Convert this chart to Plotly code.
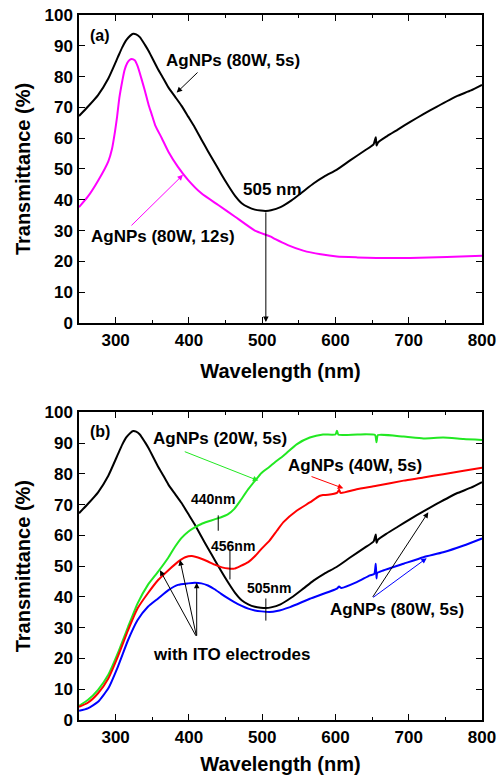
import plotly.graph_objects as go

# ---------------- data ----------------
wl_80w5 = [250, 262, 276, 290, 303, 309, 315, 320, 324, 328, 333, 340, 345, 358, 363, 372, 381, 390,
           399, 408, 417, 426, 436, 444, 454, 463, 472, 481, 490, 498, 505, 512, 525, 540, 556, 570,
           585, 602, 620, 640, 652, 655, 656, 658, 670, 685, 702, 720, 738, 765, 785, 800]
t_80w5 = [67.2, 70.2, 74.0, 79.4, 86.3, 89.5, 92.0, 93.3, 93.9, 93.7, 92.8, 90.3, 88.3, 82.3, 80.3,
          76.5, 73.5, 70.5, 67.0, 63.5, 59.6, 55.8, 51.7, 48.4, 44.5, 41.3, 38.9, 37.6, 36.8, 36.5,
          36.4, 36.6, 37.6, 39.8, 42.7, 45.3, 47.6, 49.8, 52.8, 56.0, 58.0, 60.3, 57.6, 58.6, 60.6,
          62.8, 65.3, 67.8, 70.2, 73.6, 75.5, 77.3]

wl_80w12 = [250, 262, 276, 290, 295, 299, 302, 305, 309, 312, 316, 319, 322, 326, 330, 335, 340, 345,
            349, 354, 363, 372, 385, 399, 417, 440, 463, 490, 511, 518, 535, 556, 580, 602, 630, 656,
            702, 752, 800]
t_80w12 = [37.6, 41.0, 46.2, 52.5, 56.5, 62.0, 67.0, 73.0, 78.5, 82.0, 84.5, 85.4, 85.7, 85.3, 83.4,
           79.5, 75.3, 70.8, 67.9, 64.2, 60.0, 55.6, 50.7, 46.4, 42.1, 38.3, 34.5, 30.0, 28.1, 27.2,
           25.3, 23.5, 22.3, 21.6, 21.3, 21.1, 21.1, 21.4, 21.8]

wl_20w5 = [250, 262, 276, 290, 303, 317, 330, 344, 358, 372, 381, 390, 399, 408, 417, 426, 435, 444,
           453, 462, 470, 481, 492, 499, 510, 517, 529, 547, 565, 583, 600, 602, 604, 630, 654, 656,
           658, 693, 720, 747, 775, 800]
t_20w5 = [4.6, 6.5, 9.8, 14.7, 21.7, 30.3, 37.9, 43.9, 48.2, 52.8, 56.3, 59.2, 61.2, 62.6, 63.7, 64.5,
          65.2, 65.9, 66.8, 68.6, 71.2, 75.0, 78.3, 80.3, 82.3, 83.7, 85.9, 89.6, 91.8, 92.8, 92.8,
          94.0, 92.7, 92.8, 92.6, 90.3, 92.6, 92.1, 91.5, 91.8, 91.3, 91.0]

wl_40w5 = [250, 262, 276, 290, 303, 317, 330, 344, 358, 372, 385, 395, 404, 417, 426, 436, 445, 454,
           462, 470, 481, 490, 499, 510, 520, 529, 547, 565, 578, 583, 590, 602, 605, 607, 629, 656,
           693, 720, 747, 775, 800]
t_40w5 = [4.3, 5.6, 8.7, 13.5, 20.6, 29.2, 36.3, 41.2, 45.5, 48.7, 51.4, 52.9, 53.3, 52.4, 51.5, 50.4,
          49.6, 49.2, 49.2, 50.0, 51.3, 53.2, 55.6, 58.3, 61.5, 64.3, 68.0, 70.7, 72.8, 73.1, 73.2,
          73.8, 74.8, 73.8, 75.0, 76.1, 77.8, 78.8, 79.9, 81.0, 82.0]

wl_ito80 = [250, 262, 276, 290, 303, 317, 330, 344, 358, 372, 385, 399, 408, 417, 426, 435, 444, 453,
            462, 472, 481, 490, 499, 510, 520, 538, 565, 602, 605, 608, 629, 647, 653, 655, 656, 657,
            665, 693, 720, 747, 775, 800]
t_ito80 = [3.0, 3.8, 5.9, 10.3, 17.3, 26.0, 32.5, 36.8, 39.5, 42.2, 43.9, 44.4, 44.6, 44.4, 43.7,
           42.5, 41.0, 39.6, 38.3, 37.1, 36.2, 35.6, 35.3, 35.1, 35.4, 36.7, 39.4, 42.7, 43.4, 42.9,
           44.8, 47.0, 47.5, 50.8, 46.0, 47.8, 48.6, 50.8, 52.9, 54.5, 56.7, 59.0]

x_ticks = [300, 400, 500, 600, 700, 800]
y_ticks = [0, 10, 20, 30, 40, 50, 60, 70, 80, 90, 100]

# ---------------- figure ----------------
FONT = "Arial, Liberation Sans, sans-serif"
BLACK = "#000000"
MAGENTA = "#FF00FF"
GREEN = "#22E822"
RED = "#FF0000"
BLUE = "#0000FF"

fig = go.Figure()

def curve(x, y, color, xa, ya):
    return go.Scatter(x=x, y=y, mode="lines",
                      line=dict(color=color, width=2, shape="spline", smoothing=0.5),
                      xaxis=xa, yaxis=ya, showlegend=False, hoverinfo="skip")

# panel (a)
fig.add_trace(curve(wl_80w5, t_80w5, BLACK, "x", "y"))
fig.add_trace(curve(wl_80w12, t_80w12, MAGENTA, "x", "y"))
# panel (b)
fig.add_trace(curve(wl_80w5, t_80w5, BLACK, "x2", "y2"))
fig.add_trace(curve(wl_20w5, t_20w5, GREEN, "x2", "y2"))
fig.add_trace(curve(wl_40w5, t_40w5, RED, "x2", "y2"))
fig.add_trace(curve(wl_ito80, t_ito80, BLUE, "x2", "y2"))

def xaxis_style(anchor):
    return dict(
        domain=[0.1577, 0.9621], anchor=anchor, range=[250, 800],
        tickvals=x_ticks, ticks="inside", ticklen=6, tickwidth=1.3, tickcolor=BLACK,
        minor=dict(dtick=50, tick0=250, ticks="inside", ticklen=3, tickwidth=1.3, tickcolor=BLACK),
        showline=True, linewidth=1.5, linecolor=BLACK, mirror="ticks",
        showgrid=False, zeroline=False, automargin=False,
        tickfont=dict(family=FONT, size=17, color=BLACK, weight="bold"),
        ticklabelstandoff=1,
        title=dict(text="Wavelength (nm)", standoff=15,
                   font=dict(family=FONT, size=20, color=BLACK, weight="bold")),
    )

def yaxis_style(anchor, domain):
    return dict(
        domain=domain, anchor=anchor, range=[0, 100],
        tickvals=y_ticks, ticks="inside", ticklen=6, tickwidth=1.3, tickcolor=BLACK,
        showline=True, linewidth=1.5, linecolor=BLACK, mirror="ticks",
        showgrid=False, zeroline=False, automargin=False,
        tickfont=dict(family=FONT, size=17, color=BLACK, weight="bold"),
        ticklabelstandoff=1,
        title=dict(text="Transmittance (%)", standoff=8,
                   font=dict(family=FONT, size=20, color=BLACK, weight="bold")),
    )

fig.update_layout(
    width=501, height=775,
    margin=dict(l=0, r=0, t=0, b=0),
    paper_bgcolor="white", plot_bgcolor="white",
    xaxis=xaxis_style("y"),
    yaxis=yaxis_style("x", [0.58323, 0.98065]),
    xaxis2=xaxis_style("y2"),
    yaxis2=yaxis_style("x2", [0.07097, 0.46800]),
)

annotations = []

def label(text, x, y, xref, yref, size=17, color=BLACK):
    annotations.append(dict(text=text, x=x, y=y, xref=xref, yref=yref, showarrow=False,
                            xanchor="center", yanchor="middle",
                            font=dict(family=FONT, size=size, color=color, weight="bold")))

def arrow(x0, y0, x1, y1, xref, yref, color=BLACK):
    annotations.append(dict(text="", x=x1, y=y1, ax=x0, ay=y0, xref=xref, yref=yref,
                            axref=xref, ayref=yref, showarrow=True, arrowhead=2,
                            arrowsize=1.1, arrowwidth=1, arrowcolor=color, standoff=0,
                            startstandoff=0))

# panel (a) annotations
label("(a)", 278.7, 93.2, "x", "y", size=16)
label("AgNPs (80W, 5s)", 460.2, 85.1, "x", "y")
arrow(413.8, 81.8, 383.3, 74.8, "x", "y")
label("AgNPs (80W, 12s)", 364.6, 28.2, "x", "y")
arrow(319.6, 31.2, 391.9, 48.1, "x", "y", color=MAGENTA)
label("505 nm", 513.4, 43.5, "x", "y")
arrow(505, 36.4, 505, 0.3, "x", "y")

# panel (b) annotations
label("(b)", 278.7, 93.7, "x2", "y2", size=16)
label("AgNPs (20W, 5s)", 442.4, 91.5, "x2", "y2")
arrow(392.3, 87.4, 494.7, 77.8, "x2", "y2", color=GREEN)
label("AgNPs (40W, 5s)", 626.7, 82.6, "x2", "y2")
arrow(565.3, 79.3, 610.7, 75.3, "x2", "y2", color=RED)
label("440nm", 433.3, 71.7, "x2", "y2", size=14)
label("456nm", 459.8, 56.5, "x2", "y2", size=14)
label("505nm", 509.7, 42.8, "x2", "y2", size=14)
label("AgNPs (80W, 5s)", 683.6, 36.0, "x2", "y2")
arrow(649.5, 39.5, 726.7, 67.5, "x2", "y2")
arrow(649.5, 39.5, 724.5, 52.6, "x2", "y2", color=BLUE)
label("with ITO electrodes", 459.2, 21.4, "x2", "y2")
arrow(410.6, 26.9, 360.5, 48.7, "x2", "y2")
arrow(410.6, 26.9, 387.8, 52.0, "x2", "y2")
arrow(410.6, 26.9, 410.6, 44.6, "x2", "y2")

fig.update_layout(annotations=annotations)

# small vertical marker lines at the minima (panel b)
for xm, y0, y1 in [(440, 61.5, 66.5), (456, 45.7, 55.2), (505, 32.3, 39.5)]:
    fig.add_shape(type="line", x0=xm, x1=xm, y0=y0, y1=y1, xref="x2", yref="y2",
                  line=dict(color=BLACK, width=1))

# remove the browser's default 8px body margin so the 501x775 figure fills the window
fig.write_html("out.html", config={"displayModeBar": False},
               post_script="document.body.style.margin='0px';")
